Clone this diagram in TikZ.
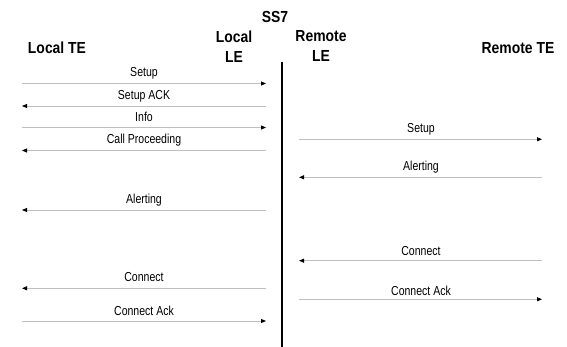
\documentclass[tikz,border=0pt]{standalone}
\usepackage{fontspec}
\setmainfont{Liberation Sans}
\newfontfamily\headfont[FakeStretch=0.87]{Liberation Sans}
\newfontfamily\msgfont[FakeStretch=0.81]{Liberation Sans}
\usetikzlibrary{arrows.meta}
\tikzset{
  head/.style={font=\headfont\bfseries\fontsize{16}{20}\selectfont, inner sep=0pt, align=center},
  msglabel/.style={font=\msgfont\fontsize{13}{14}\selectfont, inner sep=0pt},
  msg/.style={draw=black!25, line width=0.9pt, -{Triangle[length=5pt,width=4pt,color=black]}},
  lifeline/.style={draw=black, line width=2pt}
}
\begin{document}
\begin{tikzpicture}[x=1pt,y=-1pt]
\useasboundingbox (0,0) rectangle (567,347);
% headers
\node[head] (ss7) at (275,17) {SS7};
\node[head] (localTE) at (57,48) {Local TE};
\node[head] (localLE) at (234,47) {Local\\LE};
\node[head] (remoteLE) at (321,46) {Remote\\LE};
\node[head] (remoteTE) at (518,48) {Remote TE};
% SS7 line
\coordinate (ssTop) at (282,62);
\coordinate (ssBot) at (282,347);
\draw[lifeline] (ssTop) -- (ssBot);
% left side endpoints
\coordinate (a1) at (22,83.5);  \coordinate (b1) at (266,83.5);
\coordinate (a2) at (22,106);   \coordinate (b2) at (266,106);
\coordinate (a3) at (22,127.5); \coordinate (b3) at (266,127.5);
\coordinate (a4) at (22,150.5); \coordinate (b4) at (266,150.5);
\coordinate (a5) at (22,210);   \coordinate (b5) at (266,210);
\coordinate (a6) at (22,288.3); \coordinate (b6) at (266,288.3);
\coordinate (a7) at (22,321);   \coordinate (b7) at (266,321);
\draw[msg] (a1) -- (b1);
\draw[msg] (b2) -- (a2);
\draw[msg] (a3) -- (b3);
\draw[msg] (b4) -- (a4);
\draw[msg] (b5) -- (a5);
\draw[msg] (b6) -- (a6);
\draw[msg] (a7) -- (b7);
\node[msglabel] (l1) at (144,73) {Setup};
\node[msglabel] (l2) at (144,96.5) {Setup ACK};
\node[msglabel] (l3) at (144,117) {Info};
\node[msglabel] (l4) at (144,140.5) {Call Proceeding};
\node[msglabel] (l5) at (144,200.5) {Alerting};
\node[msglabel] (l6) at (144,277.5) {Connect};
\node[msglabel] (l7) at (144,310.5) {Connect Ack};
% right side endpoints
\coordinate (c1) at (299,139.3); \coordinate (d1) at (542,139.3);
\coordinate (c2) at (299,177.3); \coordinate (d2) at (542,177.3);
\coordinate (c3) at (299,260.7); \coordinate (d3) at (542,260.7);
\coordinate (c4) at (299,299.3); \coordinate (d4) at (542,299.3);
\draw[msg] (c1) -- (d1);
\draw[msg] (d2) -- (c2);
\draw[msg] (d3) -- (c3);
\draw[msg] (c4) -- (d4);
\node[msglabel] (r1) at (421,129.5) {Setup};
\node[msglabel] (r2) at (421,167.5) {Alerting};
\node[msglabel] (r3) at (421,251.5) {Connect};
\node[msglabel] (r4) at (421,290.5) {Connect Ack};
\end{tikzpicture}
\end{document}
